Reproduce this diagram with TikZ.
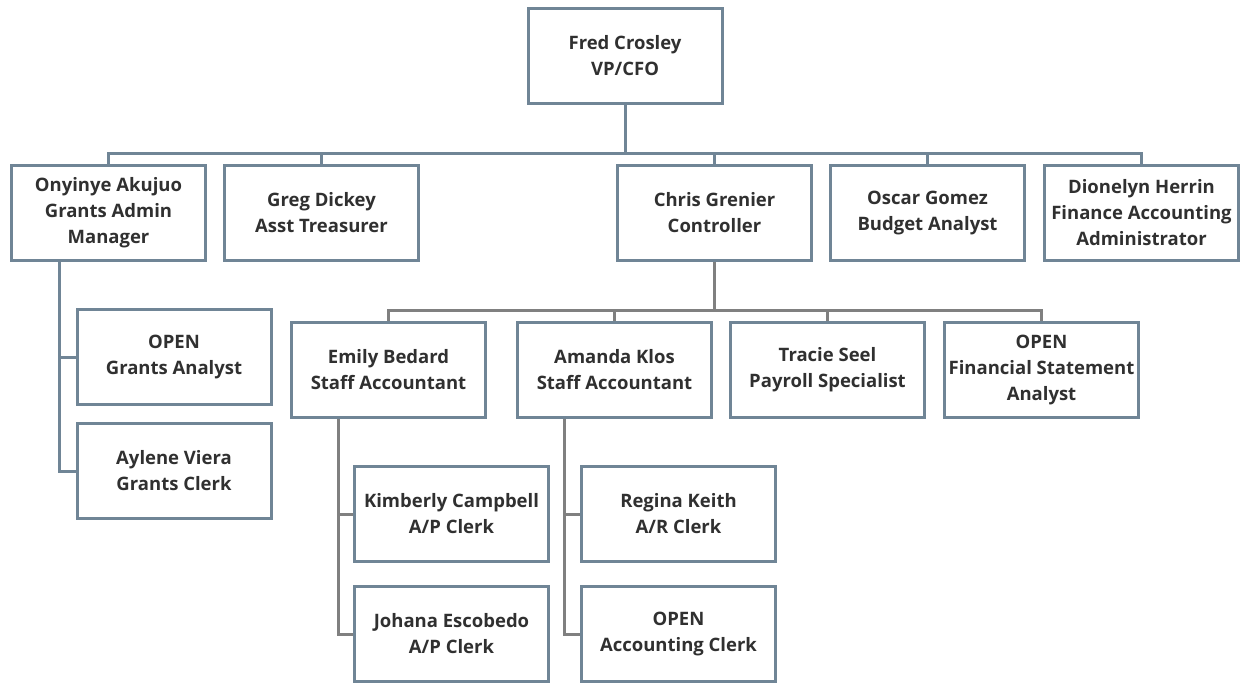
\documentclass[tikz,border=0pt]{standalone}
\usepackage{fontspec}
\setmainfont{Open Sans}
\usepackage{tikz}

\definecolor{boxline}{HTML}{708596}
\definecolor{lowline}{HTML}{808080}
\definecolor{inktext}{HTML}{303030}

\begin{document}
\begin{tikzpicture}[x=1pt,y=-1pt,line width=3pt,
    person node/.style={rectangle,draw=boxline,fill=white,minimum width=194pt,minimum height=95pt,
      align=center,text=inktext,font=\fontsize{18.5}{26}\selectfont\bfseries},
    tree/.style={to path={-- ++(0,48.5) -| (\tikztotarget)}},
    elbow/.style={to path={|- (\tikztotarget)}}]
  \useasboundingbox (0,0) rectangle (1241,683);

  \node[person node] (fred) at (625,56) {Fred Crosley\\VP/CFO};

  \node[person node] (onyinye) at (108.5,213) {Onyinye Akujuo\\Grants Admin\\Manager};
  \node[person node] (greg) at (321.5,213) {Greg Dickey\\Asst Treasurer};
  \node[person node] (chris) at (714.5,213) {Chris Grenier\\Controller};
  \node[person node] (oscar) at (927.5,213) {Oscar Gomez\\Budget Analyst};
  \node[person node] (dionelyn) at (1141.5,213) {Dionelyn Herrin\\Finance Accounting\\Administrator};

  \node[person node] (grantsopen) at (174,357) {OPEN\\Grants Analyst};
  \node[person node] (aylene) at (174,471) {Aylene Viera\\Grants Clerk};

  \node[person node] (emily) at (388.5,370) {Emily Bedard\\Staff Accountant};
  \node[person node] (amanda) at (614.5,370) {Amanda Klos\\Staff Accountant};
  \node[person node] (tracie) at (827.5,370) {Tracie Seel\\Payroll Specialist};
  \node[person node] (fsopen) at (1041.5,370) {OPEN\\Financial Statement\\Analyst};

  \node[person node] (kimberly) at (451.5,514) {Kimberly Campbell\\A/P Clerk};
  \node[person node] (johana) at (451.5,634) {Johana Escobedo\\A/P Clerk};
  \node[person node] (regina) at (678.5,514) {Regina Keith\\A/R Clerk};
  \node[person node] (acctopen) at (678.5,634) {OPEN\\Accounting Clerk};

  \path[draw=boxline]
  (fred.south) edge[tree] (onyinye.north)
  edge[tree] (greg.north)
  edge[tree] (chris.north)
  edge[tree] (oscar.north)
  edge[tree] (dionelyn.north)
  ([xshift=49.5]onyinye.south west) edge[elbow] (grantsopen.west)
  edge[elbow] (aylene.west);

  \path[draw=lowline]
  (chris.south) edge[tree] (emily.north)
  edge[tree] (amanda.north)
  edge[tree] (tracie.north)
  edge[tree] (fsopen.north)
  ([xshift=48]emily.south west) edge[elbow] (kimberly.west)
  edge[elbow] (johana.west)
  ([xshift=48]amanda.south west) edge[elbow] (regina.west)
  edge[elbow] (acctopen.west);
\end{tikzpicture}
\end{document}
